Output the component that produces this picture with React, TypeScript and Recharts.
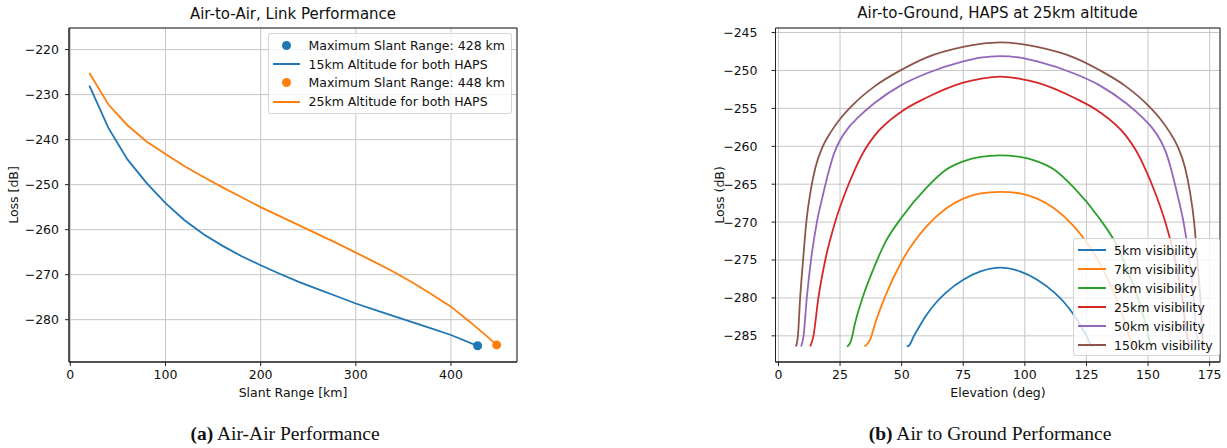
import React from 'react';
import {
  ComposedChart, LineChart, Line, Scatter, XAxis, YAxis, CartesianGrid, ReferenceArea,
} from 'recharts';

// matplotlib tab10 colours
const C = ['#1f77b4', '#ff7f0e', '#2ca02c', '#d62728', '#9467bd', '#8c564b'];

// --- Air-to-air: loss vs slant range ---
const range15 = [20, 40, 60, 80, 100, 120, 140, 160, 180, 200, 220, 240, 260, 280, 300, 320, 340, 360, 380, 400, 428];
const loss15 = [-228.0, -237.4, -244.4, -249.6, -254.1, -257.9, -261.0, -263.6, -265.9, -267.9, -269.8, -271.6, -273.2, -274.8, -276.4, -277.8, -279.2, -280.6, -282.0, -283.4, -285.8];
const range25 = [20, 40, 60, 80, 100, 120, 140, 160, 180, 200, 220, 240, 260, 280, 300, 320, 340, 360, 380, 400, 420, 440, 448];
const loss25 = [-225.2, -232.2, -236.8, -240.4, -243.2, -245.9, -248.3, -250.6, -252.8, -255.0, -257.0, -259.0, -261.0, -263.0, -265.1, -267.2, -269.4, -271.8, -274.4, -277.1, -280.5, -284.1, -285.6];
const maxRange15 = { range: 428, loss: -285.8 };
const maxRange25 = { range: 448, loss: -285.6 };
const rangeTicks = [0, 100, 200, 300, 400];
const airLossTicks = [-280, -270, -260, -250, -240, -230, -220];

// --- Air-to-ground: loss vs elevation, per visibility ---
const visLabels = ['5km visibility', '7km visibility', '9km visibility', '25km visibility', '50km visibility', '150km visibility'];
const elev5 = [52.1, 52.9, 55, 57.5, 60, 64, 68, 75, 82, 90, 98, 105, 112, 116, 120, 122.5, 125, 127.1, 127.9];
const loss5 = [-286.4, -286.3, -285.0, -283.6, -282.3, -280.6, -279.3, -277.6, -276.5, -276.0, -276.5, -277.6, -279.3, -280.6, -282.3, -283.6, -285.0, -286.3, -286.4];
const elev7 = [34.9, 35.7, 37.2, 39.3, 43.3, 50, 60, 68, 75, 82, 90, 98, 105, 112, 120, 130, 136.7, 140.7, 142.8, 144.3, 145.1];
const loss7 = [-286.4, -286.2, -285.5, -283.3, -279.8, -275.2, -270.6, -268.2, -266.9, -266.2, -266.0, -266.2, -266.9, -268.2, -270.6, -275.2, -279.8, -283.3, -285.5, -286.2, -286.4];
const elev9 = [27.8, 28.8, 29.5, 31.1, 34.1, 37.9, 43.3, 50, 60, 68, 75, 82, 90, 98, 105, 112, 120, 130, 136.7, 142.1, 145.9, 148.9, 150.5, 151.2, 152.2];
const loss9 = [-286.4, -286.1, -285.6, -283.3, -280.0, -276.7, -272.7, -269.4, -265.5, -263.1, -262.0, -261.4, -261.2, -261.4, -262.0, -263.1, -265.5, -269.4, -272.7, -276.7, -280.0, -283.3, -285.6, -286.1, -286.4];
const elev25 = [12.9, 14.2, 16.2, 19.0, 23.0, 27.5, 31.1, 35, 39, 50, 60, 75, 82, 90, 98, 105, 120, 130, 141, 145, 148.9, 152.5, 157, 161, 163.8, 165.8, 167.1];
const loss25v = [-286.4, -285.0, -280.0, -275.0, -270.0, -265.8, -263.0, -260.5, -258.6, -255.4, -253.6, -251.6, -251.1, -250.8, -251.1, -251.6, -253.6, -255.4, -258.6, -260.5, -263.0, -265.8, -270.0, -275.0, -280.0, -285.0, -286.4];
const elev50 = [9.2, 10.2, 11.5, 13.2, 15.6, 18.0, 20.5, 22.5, 25, 28.5, 32, 39, 50, 60, 75, 82, 90, 98, 105, 120, 130, 141, 148, 151.5, 155, 157.5, 159.5, 162, 164.4, 166.8, 168.5, 169.8, 170.8];
const loss50 = [-286.4, -285.0, -280.0, -275.0, -270.0, -266.5, -263.2, -261.0, -259.2, -257.5, -256.3, -254.3, -251.9, -250.4, -248.8, -248.3, -248.1, -248.3, -248.8, -250.4, -251.9, -254.3, -256.3, -257.5, -259.2, -261.0, -263.2, -266.5, -270.0, -275.0, -280.0, -285.0, -286.4];
const elev150 = [7.1, 7.9, 8.8, 10.0, 11.3, 13.0, 15.0, 18.0, 21.5, 25, 30, 39, 50, 60, 75, 82, 90, 98, 105, 120, 130, 141, 150, 155, 158.5, 162, 165, 167, 168.7, 170, 171.2, 172.1, 172.9];
const loss150 = [-286.4, -285.0, -280.0, -275.0, -270.0, -266.0, -262.8, -260.0, -258.0, -256.4, -254.6, -252.1, -249.9, -248.3, -246.9, -246.5, -246.3, -246.5, -246.9, -248.3, -249.9, -252.1, -254.6, -256.4, -258.0, -260.0, -262.8, -266.0, -270.0, -275.0, -280.0, -285.0, -286.4];
const elevTicks = [0, 25, 50, 75, 100, 125, 150, 175];
const groundLossTicks = [-285, -280, -275, -270, -265, -260, -255, -250, -245];

const zip = (xs: number[], ys: number[]) => xs.map((x, i) => ({ x, y: ys[i] }));

const airSeries = [
  { name: '15km Altitude for both HAPS', color: C[0], data: zip(range15, loss15), max: maxRange15 },
  { name: '25km Altitude for both HAPS', color: C[1], data: zip(range25, loss25), max: maxRange25 },
];

const groundSeries = [
  zip(elev5, loss5), zip(elev7, loss7), zip(elev9, loss9),
  zip(elev25, loss25v), zip(elev50, loss50), zip(elev150, loss150),
].map((data, i) => ({ name: visLabels[i], color: C[i], data }));

const FONT = '"DejaVu Sans", sans-serif';
const SERIF = '"Liberation Serif", serif';
const FS = 12.5;
const TXT = '#111';
const GRID = '#c6c6c6';
const minus = (v: number) => String(v).replace('-', '\u2212');

const Text: React.FC<{ x: number; y: number; size?: number; rotate?: boolean; font?: string; children: React.ReactNode }> = ({ x, y, size = FS, rotate, font = FONT, children }) => (
  <div
    style={{
      position: 'absolute', left: x, top: y, whiteSpace: 'nowrap', lineHeight: 1,
      fontFamily: font, fontSize: size, color: TXT,
      transform: `translate(-50%, -50%)${rotate ? ' rotate(-90deg)' : ''}`,
    }}
  >
    {children}
  </div>
);

const legendBox: React.CSSProperties = {
  position: 'absolute', background: 'rgba(255,255,255,0.8)', border: '1px solid rgba(204,204,204,0.8)',
  borderRadius: 3, boxSizing: 'border-box', fontFamily: FONT, fontSize: FS, color: TXT,
};

const tickStyle = { fontFamily: FONT, fontSize: FS, fill: TXT };

export default function App() {
  return (
    <div style={{ position: 'absolute', left: 0, top: 0, width: 1227, height: 448, background: '#fff', overflow: 'hidden' }}>
      {/* (a) air-to-air */}
      <div style={{ position: 'absolute', left: 0, top: 0 }}>
        <ComposedChart width={540} height={448} margin={{ top: 28, right: 23, bottom: 56, left: 9 }}>
          <CartesianGrid stroke={GRID} strokeWidth={1} />
          <XAxis
            type="number" dataKey="x" domain={[-1.4, 469.4]} ticks={rangeTicks} allowDataOverflow
            tick={tickStyle} tickSize={4} tickMargin={4} height={30} interval={0}
            stroke="#222" tickFormatter={minus}
          />
          <YAxis
            type="number" dataKey="y" domain={[-289.4, -215.2]} ticks={airLossTicks} allowDataOverflow
            tick={tickStyle} tickSize={4} tickMargin={6} width={60} interval={0}
            stroke="#222" tickFormatter={minus}
          />
          <ReferenceArea x1={-1.4} x2={469.4} y1={-289.4} y2={-215.2} fill="none" fillOpacity={0} stroke="#222" strokeWidth={1} ifOverflow="visible" />
          {airSeries.map((s) => (
            <Line key={s.name} data={s.data} dataKey="y" type="linear" stroke={s.color} strokeWidth={1.8} dot={false} isAnimationActive={false} />
          ))}
          {airSeries.map((s) => (
            <Scatter key={`max-${s.name}`} data={[{ x: s.max.range, y: s.max.loss }]} dataKey="y" fill={s.color} isAnimationActive={false} />
          ))}
        </ComposedChart>
        <div style={{ ...legendBox, left: 268, top: 33, width: 244, height: 81, paddingTop: 2 }}>
          {airSeries.flatMap((s) => [
            { kind: 'dot', color: s.color, label: `Maximum Slant Range: ${s.max.range} km` },
            { kind: 'line', color: s.color, label: s.name },
          ]).map((row) => (
            <div key={row.label} style={{ height: 18.8, display: 'flex', alignItems: 'center', position: 'relative' }}>
              {row.kind === 'dot' ? (
                <span style={{ position: 'absolute', left: 13, width: 9, height: 9, borderRadius: '50%', background: row.color }} />
              ) : (
                <span style={{ position: 'absolute', left: 3.5, width: 27, height: 2, background: row.color }} />
              )}
              <span style={{ position: 'absolute', left: 39.5 }}>{row.label}</span>
            </div>
          ))}
        </div>
      </div>
      <Text x={293} y={14} size={15}>Air-to-Air, Link Performance</Text>
      <Text x={14} y={195} rotate>Loss [dB]</Text>
      <Text x={293} y={393}>Slant Range [km]</Text>
      <Text x={285} y={434} size={19.5} font={SERIF}><b>(a)</b> Air-Air Performance</Text>

      {/* (b) air-to-ground */}
      <div style={{ position: 'absolute', left: 700, top: 0 }}>
        <LineChart width={527} height={448} margin={{ top: 28, right: 7, bottom: 56, left: 15.5 }}>
          <CartesianGrid stroke={GRID} strokeWidth={1} />
          <XAxis
            type="number" dataKey="x" domain={[-1.2, 179.2]} ticks={elevTicks} allowDataOverflow
            tick={tickStyle} tickSize={4} tickMargin={4} height={30} interval={0}
            stroke="#222" tickFormatter={minus}
          />
          <YAxis
            type="number" dataKey="y" domain={[-288.45, -244.4]} ticks={groundLossTicks} allowDataOverflow
            tick={tickStyle} tickSize={4} tickMargin={14} width={60} interval={0}
            stroke="#222" tickFormatter={minus}
          />
          <ReferenceArea x1={-1.2} x2={179.2} y1={-288.45} y2={-244.4} fill="none" fillOpacity={0} stroke="#222" strokeWidth={1} ifOverflow="visible" />
          {groundSeries.map((s) => (
            <Line key={s.name} data={s.data} dataKey="y" type="monotone" stroke={s.color} strokeWidth={1.8} dot={false} isAnimationActive={false} />
          ))}
        </LineChart>
        <div style={{ ...legendBox, left: 373, top: 238, width: 147, height: 118, paddingTop: 1.5 }}>
          {groundSeries.map((s) => (
            <div key={s.name} style={{ height: 19, position: 'relative', display: 'flex', alignItems: 'center' }}>
              <span style={{ position: 'absolute', left: 3.5, width: 28, height: 2, background: s.color }} />
              <span style={{ position: 'absolute', left: 40 }}>{s.name}</span>
            </div>
          ))}
        </div>
      </div>
      <Text x={997.5} y={13} size={15}>Air-to-Ground, HAPS at 25km altitude</Text>
      <Text x={720} y={195} rotate>Loss (dB)</Text>
      <Text x={998} y={393}>Elevation (deg)</Text>
      <Text x={990} y={434} size={19.5} font={SERIF}><b>(b)</b> Air to Ground Performance</Text>
    </div>
  );
}
